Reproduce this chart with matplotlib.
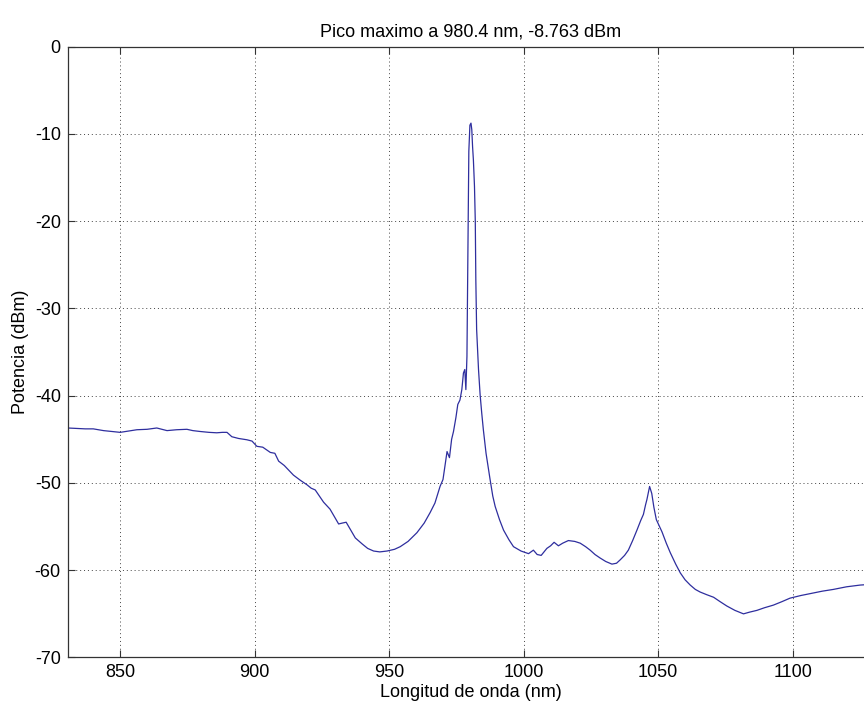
import matplotlib
matplotlib.use("Agg")
import matplotlib.pyplot as plt
import numpy as np

# espectro (nm, dBm)
longitud = [
    830.5, 834, 837, 840, 843.8, 847, 850, 853, 856.2, 860, 863.6, 867.4, 871,
    874.8, 877, 879.7, 883, 885.9, 888, 889.7, 891.5, 894, 897.1, 899, 900.8,
    903, 905.8, 907.5, 908.9, 911, 914.4, 917, 919.4, 921, 922.5, 925.6, 928,
    931.2, 932.5, 934.0, 935.5, 937.4, 940, 942, 944.2, 946.5, 949.2, 952,
    954.1, 957, 960.3, 963, 965.2, 967, 968.9, 970, 971.5, 972.4, 973.2,
    973.9, 974.8, 975.5, 976.3, 977.0, 977.6, 978.1, 978.5, 978.9, 979.3,
    979.6, 980.0, 980.4, 980.7, 981.0, 981.3, 981.7, 982.0, 982.2, 982.5,
    983.2, 983.8, 984.4, 985.0, 986.0, 987.5, 988.5, 989.4, 991, 992.5,
    994.5, 996.2, 999, 1001.8, 1003.6, 1005, 1006.5, 1008.6, 1010, 1011.3,
    1012.9, 1014.5, 1016.6, 1019, 1021.0, 1023, 1024.7, 1026.5, 1028.4,
    1030.5, 1032.8, 1034.5, 1035.9, 1037.5, 1038.9, 1040.5, 1042.1, 1043.5,
    1044.5, 1045.3, 1045.8, 1046.8, 1047.6, 1048.4, 1049.3, 1051.4, 1053,
    1054.5, 1056.5, 1058.2, 1060, 1061.9, 1063.8, 1065.6, 1068, 1070.6, 1073,
    1075.5, 1078.5, 1081.7, 1084, 1086.7, 1089.5, 1092.8, 1096, 1099.0, 1103,
    1107.7, 1111, 1115.1, 1120, 1125.1, 1130,
]
potencia = [
    -43.7, -43.75, -43.8, -43.8, -44.0, -44.1, -44.2, -44.05, -43.9, -43.85,
    -43.7, -44.0, -43.9, -43.85, -44.0, -44.1, -44.2, -44.25, -44.2, -44.2,
    -44.7, -44.9, -45.05, -45.2, -45.8, -45.9, -46.5, -46.6, -47.5, -48.0,
    -49.1, -49.7, -50.2, -50.6, -50.8, -52.2, -53.0, -54.7, -54.6, -54.5,
    -55.3, -56.3, -57.0, -57.5, -57.8, -57.9, -57.8, -57.6, -57.3, -56.7,
    -55.7, -54.6, -53.4, -52.3, -50.4, -49.6, -46.4, -47.1, -45.0, -44.1,
    -42.5, -41.0, -40.5, -39.3, -37.4, -37.0, -39.3, -35.5, -22.0, -12.0,
    -9.0, -8.763, -9.5, -11.5, -13.0, -16.0, -20.0, -26.7, -32.4, -37.0,
    -39.9, -42.0, -43.9, -46.6, -49.6, -51.5, -52.7, -54.2, -55.4, -56.5,
    -57.3, -57.8, -58.1, -57.7, -58.2, -58.3, -57.5, -57.2, -56.8, -57.2,
    -56.9, -56.6, -56.7, -56.9, -57.3, -57.7, -58.2, -58.6, -59.0, -59.3,
    -59.2, -58.8, -58.3, -57.7, -56.6, -55.4, -54.3, -53.6, -52.5, -51.9,
    -50.4, -51.2, -52.8, -54.2, -55.6, -56.9, -58.0, -59.3, -60.3, -61.1,
    -61.7, -62.2, -62.5, -62.8, -63.1, -63.6, -64.1, -64.6, -65.0, -64.8,
    -64.6, -64.3, -64.0, -63.6, -63.2, -62.9, -62.6, -62.4, -62.2, -61.9,
    -61.7, -61.6,
]
xticks = [850, 900, 950, 1000, 1050, 1100]
yticks = [0, -10, -20, -30, -40, -50, -60, -70]

plt.rcParams['font.family'] = ['Liberation Sans', 'DejaVu Sans']
plt.rcParams['axes.unicode_minus'] = False

fig = plt.figure(figsize=(8.64, 7.05), dpi=100)
ax = fig.add_axes([0.0784, 0.0674, 0.9325, 0.8664])

ax.plot(longitud, potencia, color='#2e2e9e', lw=0.9)

ax.set_xlim(830.5, 1130)
ax.set_ylim(-70, 0)
ax.set_xticks(xticks)
ax.set_yticks(yticks)
ax.grid(True, color='#444444', linestyle=(0, (1, 3)), linewidth=0.7)
ax.tick_params(direction='in', length=5, labelsize=13, top=True, right=True,
               color='#333333', pad=5)
for s in ax.spines.values():
    s.set_color('#333333')
    s.set_linewidth(0.9)

pico = np.argmax(potencia)
ax.set_title('Pico maximo a %.1f nm, %.3f dBm' % (longitud[pico], potencia[pico]),
             fontsize=13, pad=7)
ax.set_xlabel('Longitud de onda (nm)', fontsize=13, labelpad=2)
ax.set_ylabel('Potencia (dBm)', fontsize=13, labelpad=4)

fig.savefig('out.png', dpi=100)
